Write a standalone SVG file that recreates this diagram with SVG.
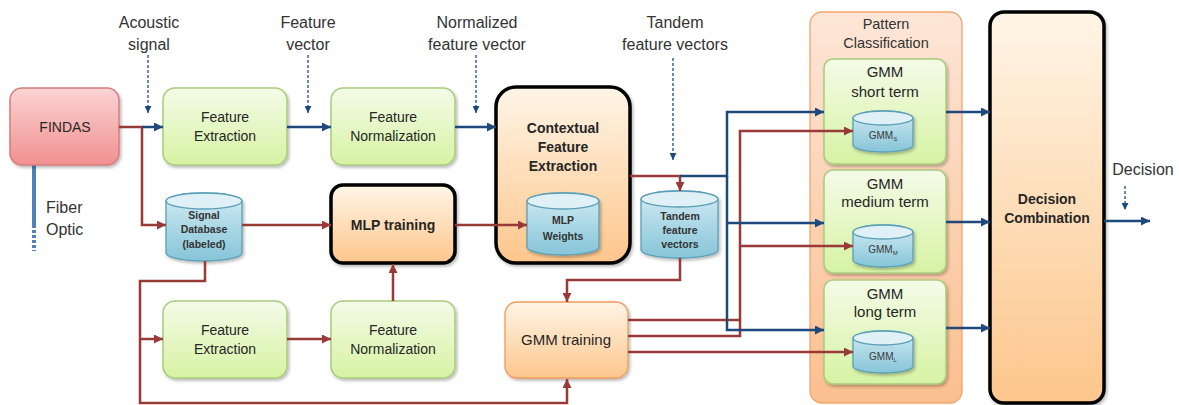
<svg xmlns="http://www.w3.org/2000/svg" width="1179" height="405" viewBox="0 0 1179 405">
<style>
text{font-family:"Liberation Sans",Arial,sans-serif;fill:#262626;text-anchor:middle}
.lbl{font-size:16px;fill:#333}
.nt{font-size:14px}
.bt{font-size:14px;font-weight:bold}
.ct{font-size:10.5px;font-weight:bold;fill:#333}
.st{font-size:10px;fill:#3a3a3a}
.green{fill:url(#gGreen);stroke:#a9cb7c;stroke-width:1.5}
.thick{fill:url(#gOrange);stroke:#000;stroke-width:3.5}
.cylb{fill:url(#gCyl);stroke:#5b9fb6;stroke-width:1.3}
.cylt{fill:#dff0f6;stroke:#5b9fb6;stroke-width:1.3}
.blue{fill:none;stroke:#1f497d;stroke-width:2.5}
.red{fill:none;stroke:#983a37;stroke-width:2.5}
.dash{fill:none;stroke:#1f497d;stroke-width:1.3;stroke-dasharray:3 2}
</style>
<defs>
<linearGradient id="gGreen" x1="0" y1="0" x2="0" y2="1"><stop offset="0" stop-color="#f4fbe8"/><stop offset="1" stop-color="#d6f3a3"/></linearGradient>
<linearGradient id="gPink" x1="0" y1="0" x2="0" y2="1"><stop offset="0" stop-color="#fbd4d4"/><stop offset="1" stop-color="#f0908f"/></linearGradient>
<linearGradient id="gOrange" x1="0" y1="0" x2="0" y2="1"><stop offset="0" stop-color="#fff5e6"/><stop offset="1" stop-color="#fdc68c"/></linearGradient>
<linearGradient id="gPat" x1="0" y1="0" x2="0" y2="1"><stop offset="0" stop-color="#fde6d8"/><stop offset="1" stop-color="#fbbf8f"/></linearGradient>
<linearGradient id="gCyl" x1="0" y1="0" x2="0" y2="1"><stop offset="0" stop-color="#d2ebf3"/><stop offset="1" stop-color="#86c5d8"/></linearGradient>
<filter id="sh" x="-10%" y="-10%" width="130%" height="130%"><feDropShadow dx="1.5" dy="2" stdDeviation="1.5" flood-color="#000" flood-opacity="0.28"/></filter>
<marker id="aB" viewBox="0 0 10 10" refX="10" refY="5" markerWidth="9" markerHeight="9" markerUnits="userSpaceOnUse" orient="auto"><path d="M0,0 L10,5 L0,10 z" fill="#1f497d"/></marker>
<marker id="aR" viewBox="0 0 10 10" refX="10" refY="5" markerWidth="9" markerHeight="9" markerUnits="userSpaceOnUse" orient="auto"><path d="M0,0 L10,5 L0,10 z" fill="#983a37"/></marker>
<marker id="aD" viewBox="0 0 10 10" refX="10" refY="5" markerWidth="7" markerHeight="7" markerUnits="userSpaceOnUse" orient="auto"><path d="M0,0 L10,5 L0,10 z" fill="#1f497d"/></marker>
</defs>

<g id="labels">
<text class="lbl" x="149" y="28">Acoustic</text><text class="lbl" x="149" y="50">signal</text>
<text class="lbl" x="308" y="28">Feature</text><text class="lbl" x="308" y="50">vector</text>
<text class="lbl" x="477" y="28">Normalized</text><text class="lbl" x="477" y="50">feature vector</text>
<text class="lbl" x="675" y="28">Tandem</text><text class="lbl" x="675" y="50">feature vectors</text>
<text class="lbl" x="1143" y="175">Decision</text>
<text class="lbl" x="46" y="213" style="text-anchor:start">Fiber</text>
<text class="lbl" x="46" y="235" style="text-anchor:start">Optic</text>
</g>

<g id="fiber">
<path d="M34,165 V228" stroke="#4f81bd" stroke-width="4" fill="none"/>
<path d="M34,230 V251" stroke="#4f81bd" stroke-width="4" stroke-dasharray="3 2" fill="none"/>
</g>

<g id="findas">
<rect x="10" y="88" width="109" height="77" rx="12" fill="url(#gPink)" stroke="#d47d7d" stroke-width="1.5" filter="url(#sh)"/>
<text class="nt" x="65" y="132">FINDAS</text>
</g>

<g id="fe1">
<rect class="green" x="163" y="88" width="124" height="77" rx="12" filter="url(#sh)"/>
<text class="nt" x="225" y="122">Feature</text><text class="nt" x="225" y="141">Extraction</text>
</g>

<g id="fn1">
<rect class="green" x="331" y="88" width="124" height="77" rx="12" filter="url(#sh)"/>
<text class="nt" x="393" y="122">Feature</text><text class="nt" x="393" y="141">Normalization</text>
</g>

<g id="signaldb">
<path class="cylb" d="M166,201 V253 A38,8 0 0 0 242,253 V201 A38,8 0 0 0 166,201 Z" filter="url(#sh)"/>
<ellipse class="cylt" cx="204" cy="201" rx="38" ry="8"/>
<text class="ct" x="204" y="219">Signal</text><text class="ct" x="204" y="233">Database</text><text class="ct" x="204" y="248">(labeled)</text>
</g>

<g id="mlptraining">
<rect class="thick" x="331" y="185" width="124" height="78" rx="12" filter="url(#sh)"/>
<text class="bt" x="393" y="230">MLP training</text>
</g>

<g id="cfe">
<rect class="thick" x="496" y="87" width="134" height="176" rx="20" filter="url(#sh)"/>
<text class="bt" x="563" y="133">Contextual</text><text class="bt" x="563" y="152">Feature</text><text class="bt" x="563" y="171">Extraction</text>
</g>

<g id="mlpweights">
<path class="cylb" d="M527,201 V247 A36,8 0 0 0 599,247 V201 A36,8 0 0 0 527,201 Z" filter="url(#sh)"/>
<ellipse class="cylt" cx="563" cy="201" rx="36" ry="8"/>
<text class="ct" x="563" y="224">MLP</text><text class="ct" x="563" y="240">Weights</text>
</g>

<g id="tandem">
<path class="cylb" d="M641,199 V250 A38.5,8 0 0 0 718,250 V199 A38.5,8 0 0 0 641,199 Z" filter="url(#sh)"/>
<ellipse class="cylt" cx="679.5" cy="199" rx="38.5" ry="8"/>
<text class="ct" x="680" y="220">Tandem</text><text class="ct" x="680" y="234">feature</text><text class="ct" x="680" y="248">vectors</text>
</g>

<g id="fe2">
<rect class="green" x="163" y="301" width="124" height="77" rx="12" filter="url(#sh)"/>
<text class="nt" x="225" y="335">Feature</text><text class="nt" x="225" y="354">Extraction</text>
</g>

<g id="fn2">
<rect class="green" x="331" y="301" width="124" height="77" rx="12" filter="url(#sh)"/>
<text class="nt" x="393" y="335">Feature</text><text class="nt" x="393" y="354">Normalization</text>
</g>

<g id="gmmtraining">
<rect x="505" y="302" width="123" height="76" rx="12" fill="url(#gOrange)" stroke="#f09a5c" stroke-width="1.3" filter="url(#sh)"/>
<text x="566" y="345" style="font-size:15px">GMM training</text>
</g>

<g id="pattern">
<rect x="810" y="12" width="152" height="391" rx="12" fill="url(#gPat)" stroke="#f3a56b" stroke-width="1.3"/>
<text x="886" y="29" style="font-size:14.5px;fill:#333">Pattern</text><text x="886" y="48" style="font-size:14.5px;fill:#333">Classification</text>
</g>

<g id="gmmshort">
<rect class="green" x="824" y="59" width="122" height="105" rx="9" filter="url(#sh)"/>
<text x="885" y="77" style="font-size:15px">GMM</text><text x="885" y="97" style="font-size:15px">short term</text>
<path class="cylb" d="M853,118 V145 A30,7 0 0 0 913,145 V118 A30,7 0 0 0 853,118 Z" filter="url(#sh)"/>
<ellipse class="cylt" cx="883" cy="118" rx="30" ry="7"/>
<text class="st" x="883" y="139">GMM<tspan dy="2" style="font-size:6px">S</tspan></text>
</g>

<g id="gmmmedium">
<rect class="green" x="824" y="170" width="122" height="103" rx="9" filter="url(#sh)"/>
<text x="885" y="189" style="font-size:15px">GMM</text><text x="885" y="207" style="font-size:15px">medium term</text>
<path class="cylb" d="M853,232 V260 A30,7 0 0 0 913,260 V232 A30,7 0 0 0 853,232 Z" filter="url(#sh)"/>
<ellipse class="cylt" cx="883" cy="232" rx="30" ry="7"/>
<text class="st" x="883" y="253">GMM<tspan dy="2" style="font-size:6px">M</tspan></text>
</g>

<g id="gmmlong">
<rect class="green" x="824" y="280" width="122" height="104" rx="9" filter="url(#sh)"/>
<text x="885" y="299" style="font-size:15px">GMM</text><text x="885" y="317" style="font-size:15px">long term</text>
<path class="cylb" d="M853,338 V366 A30,7 0 0 0 913,366 V338 A30,7 0 0 0 853,338 Z" filter="url(#sh)"/>
<ellipse class="cylt" cx="883" cy="338" rx="30" ry="7"/>
<text class="st" x="883" y="360">GMM<tspan dy="2" style="font-size:6px">L</tspan></text>
</g>

<g id="decision">
<rect class="thick" x="990" y="12" width="114" height="391" rx="14" filter="url(#sh)"/>
<text class="bt" x="1047" y="204">Decision</text><text class="bt" x="1047" y="223">Combination</text>
</g>

<g id="connectors">
<path class="dash" d="M148,55 V113" marker-end="url(#aD)"/>
<path class="dash" d="M308,55 V113" marker-end="url(#aD)"/>
<path class="dash" d="M476,55 V113" marker-end="url(#aD)"/>
<path class="dash" d="M673,58 V160" marker-end="url(#aD)"/>
<path class="dash" d="M1125,186 V210" marker-end="url(#aD)"/>
<path class="red" d="M119,127 H142 V225 H166" marker-end="url(#aR)"/>
<path class="red" d="M242,225 H331" marker-end="url(#aR)"/>
<path class="red" d="M455,225 H527" marker-end="url(#aR)"/>
<path class="red" d="M393,301 V264" marker-end="url(#aR)"/>
<path class="red" d="M205,261 V281 H140 V403 H567 V379" marker-end="url(#aR)"/>
<path class="red" d="M140,339 H163" marker-end="url(#aR)"/>
<path class="red" d="M287,339 H331" marker-end="url(#aR)"/>
<path class="red" d="M630,176 H680 V191" marker-end="url(#aR)"/>
<path class="red" d="M680,258 V280 H567 V302" marker-end="url(#aR)"/>
<path class="red" d="M628,320 H740"/>
<path class="red" d="M628,336 H740 V131 H853" marker-end="url(#aR)"/>
<path class="red" d="M740,246 H853" marker-end="url(#aR)"/>
<path class="red" d="M628,352 H853" marker-end="url(#aR)"/>
<path class="blue" d="M142,127 H163" marker-end="url(#aB)"/>
<path class="blue" d="M287,127 H331" marker-end="url(#aB)"/>
<path class="blue" d="M455,127 H496" marker-end="url(#aB)"/>
<path class="blue" d="M680,176 H727 V112 H824" marker-end="url(#aB)"/>
<path class="blue" d="M727,176 V330 H824" marker-end="url(#aB)"/>
<path class="blue" d="M727,223 H824" marker-end="url(#aB)"/>
<path class="blue" d="M946,112 H990" marker-end="url(#aB)"/>
<path class="blue" d="M946,222 H990" marker-end="url(#aB)"/>
<path class="blue" d="M946,328 H990" marker-end="url(#aB)"/>
<path class="blue" d="M1104,221 H1150" marker-end="url(#aB)"/>
</g>
</svg>
